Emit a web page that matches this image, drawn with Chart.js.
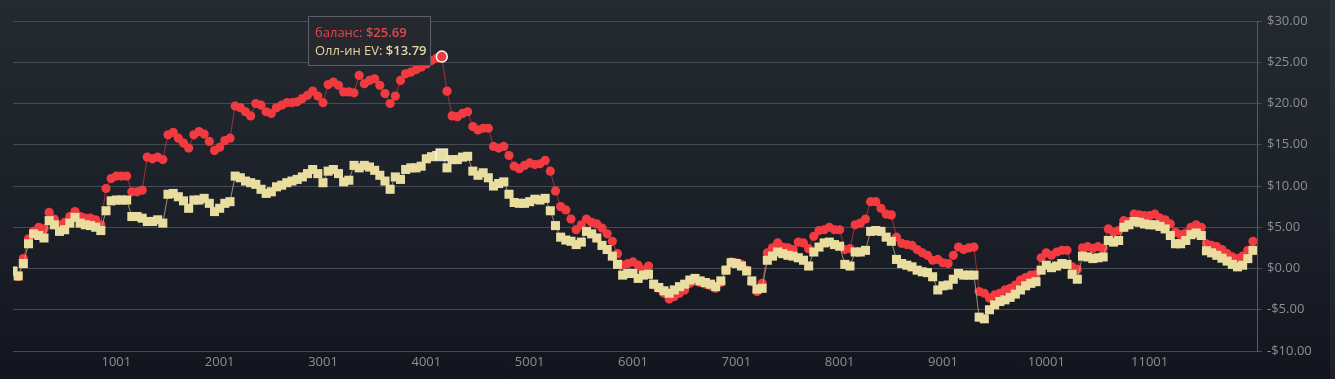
<!DOCTYPE html>
<html><head><meta charset="utf-8">
<script src="https://cdn.jsdelivr.net/npm/chart.js@4/dist/chart.umd.min.js"></script>
<style>
html,body{margin:0;padding:0;width:1335px;height:379px;overflow:hidden;}
body{background:linear-gradient(to bottom,#252a31 0%,#1c2028 55%,#12151d 100%);position:relative;font-family:"Open Sans",sans-serif;}
#wrap{position:absolute;left:0;top:0;width:1335px;height:379px;}
#edge{position:absolute;right:0;top:0;width:5px;height:379px;background:rgba(255,255,255,0.05);}
#tip{position:absolute;display:none;padding:6px 3px 6px 6px;background:rgba(38,40,48,0.94);border:1px solid #5d6068;font-size:13px;line-height:18px;white-space:nowrap;font-family:"Open Sans",sans-serif;}
#tip b{font-weight:600;}
</style></head>
<body>
<div id="wrap"><canvas id="c" width="1335" height="379"></canvas></div>
<div id="tip"></div>
<div id="edge"></div>
<script>
const seriesNames = ['баланс', 'Олл-ин EV'];
const hands = Array.from({length: 241}, (_, i) => 1 + 50 * i);
const balance = [
 -0.3,-1.0,1.2,3.6,4.5,5.0,4.8,6.8,6.0,5.3,
 5.6,6.3,6.9,6.3,6.1,6.1,5.9,5.3,9.7,10.9,
 11.2,11.2,11.2,9.3,9.3,9.5,13.5,13.3,13.5,13.2,
 16.2,16.5,15.8,15.2,14.6,16.2,16.6,16.3,15.4,14.3,
 14.7,15.5,15.8,19.7,19.5,19.0,18.5,20.0,19.8,19.0,
 18.8,19.5,19.8,20.1,20.1,20.2,20.6,21.0,21.5,20.9,
 20.1,22.3,22.6,22.2,21.4,21.4,21.3,23.4,22.4,22.8,
 23.0,22.2,21.2,20.0,20.9,22.8,23.6,23.8,24.1,24.4,
 24.8,25.2,25.5,25.69,21.5,18.5,18.4,18.8,19.0,17.2,
 16.8,17.0,17.0,14.8,14.6,14.8,13.7,12.4,12.1,12.5,
 12.8,12.6,12.7,13.1,11.8,9.4,7.5,7.1,6.0,4.7,
 5.3,6.0,5.6,5.4,4.9,4.2,3.3,1.8,0.4,0.6,
 0.8,0.4,-0.2,0.3,-2.0,-2.4,-3.0,-3.7,-3.4,-3.0,
 -2.6,-1.8,-1.5,-1.7,-1.9,-2.1,-2.4,-1.7,-0.2,0.8,
 0.7,0.5,-0.2,-1.6,-2.8,-1.8,1.9,2.5,3.1,2.6,
 2.5,2.3,3.2,3.1,2.4,3.9,4.6,4.7,5.0,4.7,
 4.7,2.3,2.4,5.3,5.5,6.0,8.1,8.1,7.3,6.6,
 6.5,3.8,3.05,2.9,2.8,2.3,1.9,1.6,1.0,1.1,
 0.7,0.6,1.6,2.6,2.3,2.5,2.6,-2.8,-3.0,-3.6,
 -3.2,-3.0,-2.6,-2.4,-2.0,-1.4,-1.1,-0.8,-0.7,1.3,
 1.9,1.6,2.0,2.2,2.2,0.2,-0.1,2.5,2.65,2.45,
 2.65,2.45,4.8,4.4,4.6,5.8,5.7,6.6,6.5,6.4,
 6.4,6.6,6.1,5.9,5.4,4.4,4.1,4.3,5.0,5.3,
 5.0,3.0,2.8,2.65,2.3,1.8,1.4,1.2,1.5,2.2,
 3.3
];
const allinEV = [
 -0.3,-0.9,0.6,3.0,4.2,4.0,3.7,5.8,5.3,4.5,
 4.7,5.5,6.2,5.5,5.3,5.2,5.0,4.6,7.0,8.2,
 8.3,8.3,8.3,6.3,6.3,6.1,5.7,5.7,5.9,5.5,
 9.0,9.1,8.7,8.2,7.3,8.3,8.3,8.5,7.9,6.9,
 7.3,7.9,8.1,11.2,11.0,10.6,10.4,10.2,9.6,9.1,
 9.3,9.9,10.1,10.4,10.6,10.8,11.1,11.5,12.0,11.5,
 10.4,11.8,12.0,11.5,10.5,10.7,12.5,12.2,12.5,12.3,
 11.9,11.3,10.6,9.6,11.1,10.8,12.0,12.2,12.2,12.4,
 13.3,13.55,13.7,13.79,12.2,13.2,13.2,13.5,13.6,11.8,
 11.3,11.6,11.0,10.0,10.3,10.5,9.0,8.0,7.9,7.9,
 8.1,8.4,8.3,8.5,7.0,5.2,3.8,3.45,3.3,2.9,
 3.2,4.5,4.2,3.7,2.8,2.3,1.5,0.5,-0.8,-0.6,
 -0.6,-1.2,-0.8,-0.7,-1.9,-2.3,-2.7,-3.0,-2.6,-2.2,
 -1.9,-1.4,-1.2,-1.5,-1.7,-1.9,-2.2,-1.5,-0.2,0.7,
 0.6,0.3,-0.3,-1.5,-2.5,-2.4,1.0,1.5,2.0,1.8,
 1.6,1.5,1.3,1.0,0.3,2.0,2.6,3.1,3.2,2.9,
 2.7,0.5,0.3,2.0,2.0,2.2,4.5,4.6,4.5,3.8,
 3.3,1.1,0.6,0.4,0.2,-0.2,-0.4,-0.5,-1.0,-2.6,
 -2.1,-2.0,-1.3,-0.6,-0.8,-0.8,-0.8,-5.9,-6.1,-5.0,
 -4.4,-4.0,-3.8,-3.5,-3.1,-2.6,-2.1,-1.8,-1.6,-0.2,
 0.4,0.1,0.3,0.6,0.5,-0.7,-1.3,1.5,1.4,1.2,
 1.3,1.4,3.4,3.2,3.4,5.0,5.3,5.7,5.6,5.4,
 5.3,5.3,5.1,4.8,4.0,3.0,3.0,3.4,4.1,4.3,
 4.0,2.15,1.9,1.6,1.25,0.9,0.5,0.2,0.4,1.2,
 2.2
];
const xTicks = [1001, 2001, 3001, 4001, 5001, 6001, 7001, 8001, 9001, 10001, 11001];
const yTicks = [-10, -5, 0, 5, 10, 15, 20, 25, 30];
const activeIndex = 83;

const RED = '#f23b40';
const YEL = '#e9dea0';
const TXT_COLORS = ['#e5464b', '#e3d8a0'];
const fmt = v => (v < 0 ? '-$' : '$') + Math.abs(v).toFixed(2);

const ctx = document.getElementById('c').getContext('2d');
const chart = new Chart(ctx, {
  type: 'line',
  data: {
    datasets: [
      {
        label: seriesNames[0],
        data: hands.map((h, i) => ({x: h, y: balance[i]})),
        order: 1,
        borderColor: 'rgba(190,55,60,0.8)',
        borderWidth: 1,
        backgroundColor: RED,
        pointBackgroundColor: RED,
        pointBorderWidth: 0,
        pointRadius: 4.6,
        pointStyle: 'circle',
        pointHoverRadius: 5.5,
        pointHoverBackgroundColor: RED,
        pointHoverBorderColor: '#ffffff',
        pointHoverBorderWidth: 1.5,
        tension: 0
      },
      {
        label: seriesNames[1],
        data: hands.map((h, i) => ({x: h, y: allinEV[i]})),
        order: 0,
        borderColor: 'rgba(190,185,145,0.75)',
        borderWidth: 1,
        backgroundColor: YEL,
        pointBackgroundColor: YEL,
        pointBorderWidth: 0,
        pointRadius: 6.4,
        pointStyle: 'rect',
        pointHoverRadius: 8,
        pointHoverBackgroundColor: YEL,
        pointHoverBorderColor: 'rgba(255,255,255,0.75)',
        pointHoverBorderWidth: 1.5,
        tension: 0
      }
    ]
  },
  options: {
    responsive: false,
    animation: false,
    devicePixelRatio: 1,
    layout: {padding: {left: 13, top: 21, right: 0, bottom: 0}},
    interaction: {mode: 'index', intersect: false},
    events: [],
    plugins: {legend: {display: false}, tooltip: {enabled: false}},
    scales: {
      x: {
        type: 'linear', min: 1, max: 12040,
        afterBuildTicks: s => { s.ticks = xTicks.map(v => ({value: v})); },
        afterFit: s => { s.height = 28; },
        grid: {display: false, drawTicks: false},
        border: {display: false},
        ticks: {color: '#8a8e96', padding: 3, maxRotation: 0, autoSkip: false,
                font: {family: 'Open Sans', size: 13}, callback: v => String(v)}
      },
      y: {
        position: 'right', min: -10, max: 30,
        afterBuildTicks: s => { s.ticks = yTicks.map(v => ({value: v})); },
        afterFit: s => { s.width = 78; },
        grid: {color: '#464b53', lineWidth: 1, tickLength: 5, drawTicks: true},
        border: {display: true, color: '#585c64'},
        ticks: {color: '#8a8e96', padding: 5, font: {family: 'Open Sans', size: 13},
                callback: v => fmt(v)}
      }
    }
  }
});

const act = [{datasetIndex: 0, index: activeIndex}, {datasetIndex: 1, index: activeIndex}];
chart.setActiveElements(act);
chart.update();

const pt = chart.getDatasetMeta(0).data[activeIndex];
const tip = document.getElementById('tip');
const vals = [balance[activeIndex], allinEV[activeIndex]];
tip.innerHTML = seriesNames.map((n, i) =>
  '<div style="color:' + TXT_COLORS[i] + '">' + n + ': <b>' + fmt(vals[i]) + '</b></div>').join('');
tip.style.display = 'block';
tip.style.left = Math.round(pt.x - 134) + 'px';
tip.style.top = Math.round(pt.y - 41) + 'px';
</script>
</body></html>
